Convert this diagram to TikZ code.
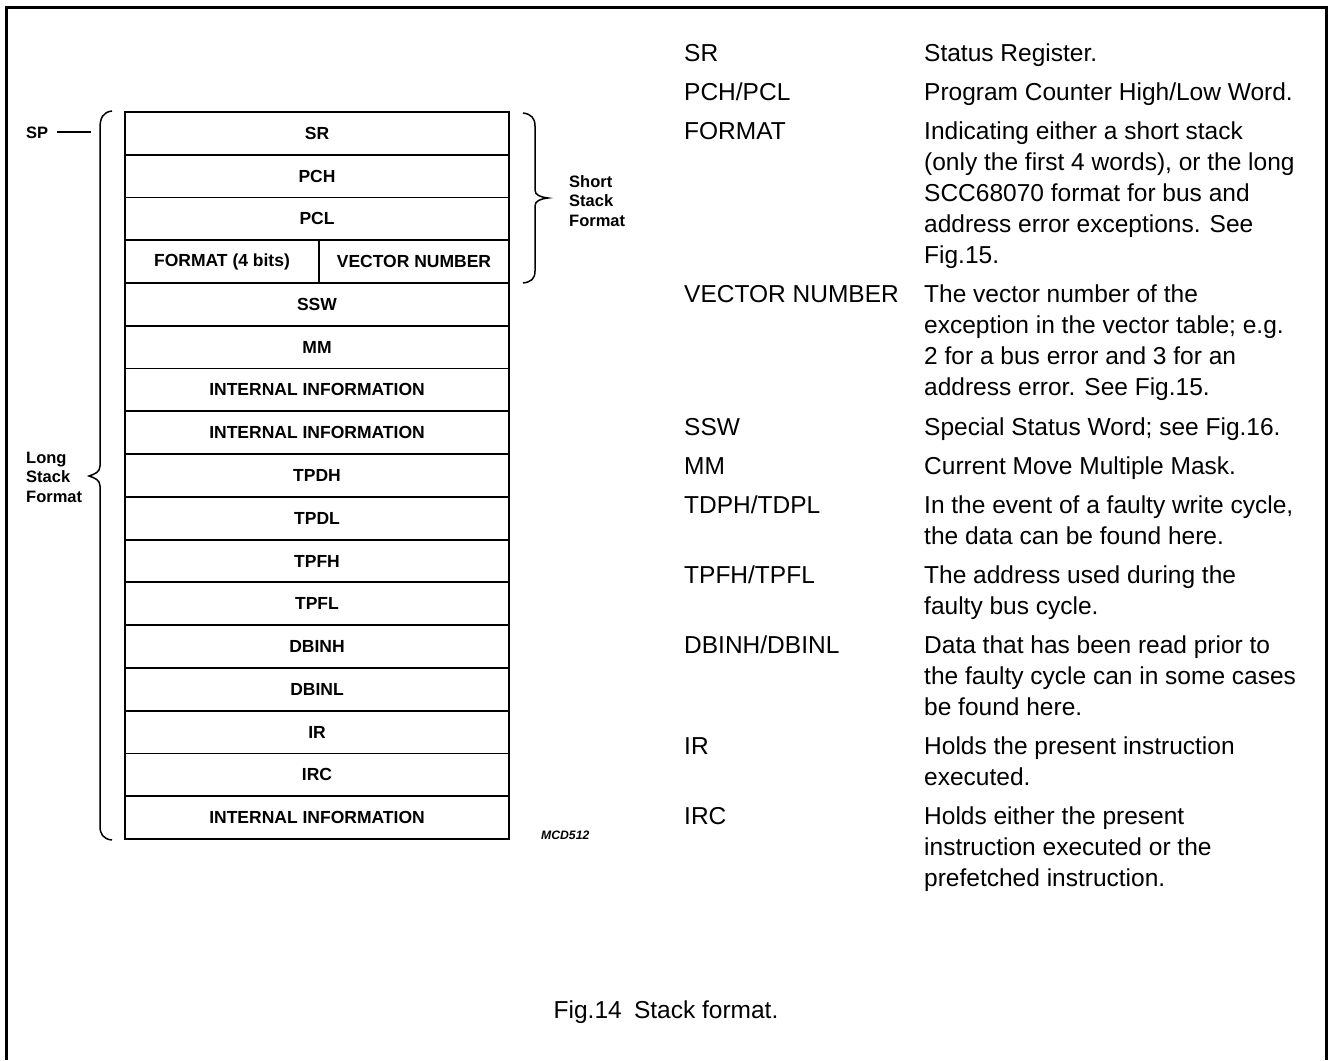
\documentclass[tikz,border=0pt]{standalone}
\usepackage{fontspec}
\setmainfont{Liberation Sans}
\newcommand\mlines[1]{\vtop{\halign{##\hfil\cr#1\crcr}}}
\begin{document}
\tikzset{
  cell/.style={draw, line width=1.8pt, minimum height=42.76pt, inner sep=0pt,
               font=\fontsize{17.5}{20}\selectfont\bfseries},
  fullcell/.style={cell, minimum width=384pt},
  desc/.style={anchor=base west, inner sep=0pt,
               font=\fontsize{24.5}{31}\selectfont},
  lbl/.style={anchor=base west, inner sep=0pt,
              font=\fontsize{16.5}{19.5}\selectfont\bfseries},
  bracepath/.style={line width=1.5pt},
}
\begin{tikzpicture}[x=1pt,y=-1pt]
\useasboundingbox (0,0) rectangle (1330,1060);
% frame
\draw[line width=3pt] (6,1060) -- (6,7) -- (1326,7) -- (1326,1060);

% stack rows
\def\rh{42.76}
\node[fullcell] (r0) at (317,{112+\rh*0.5}) {SR};
\node[fullcell] (r1) at (317,{112+\rh*1.5}) {PCH};
\node[fullcell] (r2) at (317,{112+\rh*2.5}) {PCL};
\node[cell, minimum width=194pt] (r3a) at (222,{112+\rh*3.5}) {FORMAT (4 bits)};
\node[cell, minimum width=190pt] (r3b) at (414,{112+\rh*3.5}) {VECTOR NUMBER};
\node[fullcell] (r4) at (317,{112+\rh*4.5}) {SSW};
\node[fullcell] (r5) at (317,{112+\rh*5.5}) {MM};
\node[fullcell] (r6) at (317,{112+\rh*6.5}) {INTERNAL INFORMATION};
\node[fullcell] (r7) at (317,{112+\rh*7.5}) {INTERNAL INFORMATION};
\node[fullcell] (r8) at (317,{112+\rh*8.5}) {TPDH};
\node[fullcell] (r9) at (317,{112+\rh*9.5}) {TPDL};
\node[fullcell] (r10) at (317,{112+\rh*10.5}) {TPFH};
\node[fullcell] (r11) at (317,{112+\rh*11.5}) {TPFL};
\node[fullcell] (r12) at (317,{112+\rh*12.5}) {DBINH};
\node[fullcell] (r13) at (317,{112+\rh*13.5}) {DBINL};
\node[fullcell] (r14) at (317,{112+\rh*14.5}) {IR};
\node[fullcell] (r15) at (317,{112+\rh*15.5}) {IRC};
\node[fullcell] (r16) at (317,{112+\rh*16.5}) {INTERNAL INFORMATION};

% left labels and brace
\node[lbl] (sp) at (26,138) {SP};
\coordinate (spend) at (91,132);
\draw[line width=1.3pt] (57,132) -- (spend);
\node[lbl] (long) at (26,463) {\mlines{Long\cr Stack\cr Format}};
\draw[bracepath] (112,111) .. controls (103,112) and (100,118) .. (100,128)
  -- (100,466) .. controls (100,472) and (95,474) .. (89,476)
  .. controls (95,478) and (100,480) .. (100,486)
  -- (100,826) .. controls (100,834) and (103,839) .. (112,840);

% right brace and label
\draw[bracepath] (523,113) .. controls (531,114) and (535,118) .. (535,126)
  -- (535,190) .. controls (535,195) and (540,197) .. (548,198)
  .. controls (540,199) and (535,201) .. (535,206)
  -- (535,271) .. controls (535,279) and (531,282) .. (523,283);
\node[lbl] (short) at (569,187) {\mlines{Short\cr Stack\cr Format}};

\node[anchor=base west, inner sep=0pt, font=\fontsize{12.2}{14}\selectfont\bfseries\itshape] (mcd) at (541,839) {MCD512};

% description table
\node[desc] (t1) at (684,61) {SR};
\node[desc] (d1) at (924,61) {Status Register.};
\node[desc] (t2) at (684,100) {PCH/PCL};
\node[desc] (d2) at (924,100) {Program Counter High/Low Word.};
\node[desc] (t3) at (684,139) {FORMAT};
\node[desc] (d3) at (924,139) {\mlines{Indicating either a short stack\cr (only the first 4 words), or the long\cr SCC68070 format for bus and\cr address error exceptions. See\cr Fig.15.}};
\node[desc] (t4) at (684,302) {VECTOR NUMBER};
\node[desc] (d4) at (924,302) {\mlines{The vector number of the\cr exception in the vector table; e.g.\cr 2 for a bus error and 3 for an\cr address error. See Fig.15.}};
\node[desc] (t5) at (684,435) {SSW};
\node[desc] (d5) at (924,435) {Special Status Word; see Fig.16.};
\node[desc] (t6) at (684,474) {MM};
\node[desc] (d6) at (924,474) {Current Move Multiple Mask.};
\node[desc] (t7) at (684,513) {TDPH/TDPL};
\node[desc] (d7) at (924,513) {\mlines{In the event of a faulty write cycle,\cr the data can be found here.}};
\node[desc] (t8) at (684,583) {TPFH/TPFL};
\node[desc] (d8) at (924,583) {\mlines{The address used during the\cr faulty bus cycle.}};
\node[desc] (t9) at (684,653) {DBINH/DBINL};
\node[desc] (d9) at (924,653) {\mlines{Data that has been read prior to\cr the faulty cycle can in some cases\cr be found here.}};
\node[desc] (t10) at (684,754) {IR};
\node[desc] (d10) at (924,754) {\mlines{Holds the present instruction\cr executed.}};
\node[desc] (t11) at (684,824) {IRC};
\node[desc] (d11) at (924,824) {\mlines{Holds either the present\cr instruction executed or the\cr prefetched instruction.}};

% caption
\node[anchor=base, inner sep=0pt, font=\fontsize{24.5}{31}\selectfont] (cap) at (666,1018) {Fig.14\hspace{0.5em}Stack format.};
\end{tikzpicture}
\end{document}
